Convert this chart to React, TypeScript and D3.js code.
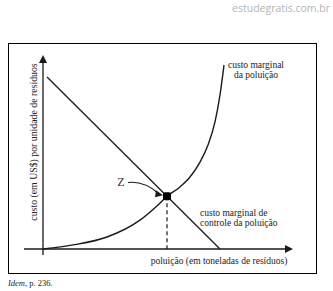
import React from "react";
import * as d3 from "d3";

// Curves in abstract units: x = pollution (tons), y = cost per unit
const pollutionCostX = [0, 1.2, 2.56, 3.88, 4.6, 4.96, 5.48, 5.88, 6.28, 6.6, 6.88, 7.08, 7.24];
const pollutionCostY = [0, 0.21, 0.62, 1.49, 2.27, 2.72, 3.2, 3.71, 4.48, 5.36, 6.55, 7.94, 9.48];
const controlCostX = [0.16, 7.08];
const controlCostY = [8.87, 0];
const equilibrium = { x: 4.96, y: 2.72 };

const xAxisLabel = "poluição (em toneladas de resíduos)";
const yAxisLabel = "custo (em US$) por unidade de resíduos";
const pollutionLabel = ["custo marginal", "da poluição"];
const controlLabel = ["custo marginal de", "controle da poluição"];
const pointLabel = "Z";
const sourceNote = "p. 236.";
const siteMark = "estudegratis.com.br";

const W = 333;
const H = 291;

export default function App() {
  const x = d3.scaleLinear().domain([0, 10]).range([43, 293]);
  const y = d3.scaleLinear().domain([0, 10]).range([249, 55]);

  const pollutionPts: [number, number][] = pollutionCostX.map((v, i) => [v, pollutionCostY[i]]);
  const controlPts: [number, number][] = controlCostX.map((v, i) => [v, controlCostY[i]]);

  const curvePath =
    d3
      .line<[number, number]>()
      .x((d) => x(d[0]))
      .y((d) => y(d[1]))
      .curve(d3.curveMonotoneX)(pollutionPts) || "";
  const controlPath =
    d3
      .line<[number, number]>()
      .x((d) => x(d[0]))
      .y((d) => y(d[1]))(controlPts) || "";

  const zx = x(equilibrium.x);
  const zy = y(equilibrium.y);
  const x0 = x(0);
  const y0 = y(0);
  const xEnd = x(10);
  const yEnd = y(10);

  const serif = "Liberation Serif, Tinos, Times New Roman, DejaVu Serif, serif";
  const ink = "#1a1a1a";

  return (
    <svg
      width={W}
      height={H}
      viewBox={`0 0 ${W} ${H}`}
      style={{ position: "absolute", left: 0, top: 0, background: "#fff" }}
    >
      <rect width={W} height={H} fill="#fff" />
      <text
        x={330}
        y={12}
        textAnchor="end"
        fontFamily="Open Sans, sans-serif"
        fontSize={10.5}
        fill="#b4b4b4"
      >
        {siteMark}
      </text>

      {/* frame */}
      <rect x={8.5} y={43.5} width={308} height={230} fill="none" stroke="#000" strokeWidth={1} />

      {/* axes */}
      <line x1={x0} y1={yEnd + 6} x2={x0} y2={y0 + 6} stroke={ink} strokeWidth={1.3} />
      <path d={`M${x0},${yEnd} L${x0 - 4},${yEnd + 8} L${x0 + 4},${yEnd + 8} Z`} fill={ink} />
      <line x1={24} y1={y0} x2={xEnd - 6} y2={y0} stroke={ink} strokeWidth={1.3} />
      <path d={`M${xEnd},${y0} L${xEnd - 8},${y0 - 4} L${xEnd - 8},${y0 + 4} Z`} fill={ink} />

      {/* marginal cost curves */}
      <path d={controlPath} fill="none" stroke={ink} strokeWidth={1.3} />
      <path d={curvePath} fill="none" stroke={ink} strokeWidth={1.4} />

      {/* equilibrium drop line */}
      <line x1={zx} y1={zy} x2={zx} y2={y0} stroke={ink} strokeWidth={1.2} strokeDasharray="4,3" />
      <rect x={zx - 4} y={zy - 4} width={8} height={8} rx={2} fill="#000" />

      {/* Z pointer */}
      <text x={121} y={186} textAnchor="middle" style={{ fontFamily: serif }} fontSize={12} fill="#333">
        {pointLabel}
      </text>
      <path
        d={`M128,182.5 C140,181 150,186 ${zx - 8},${zy - 2.5}`}
        fill="none"
        stroke={ink}
        strokeWidth={1.2}
      />
      <path
        d={`M${zx - 4},${zy - 1} L${zx - 11},${zy - 6} L${zx - 12},${zy + 1} Z`}
        fill={ink}
      />

      {/* curve labels */}
      <g style={{ fontFamily: serif }} fontSize={9.5} fill="#222">
        <text x={256} y={68} textAnchor="middle">{pollutionLabel[0]}</text>
        <text x={256} y={78} textAnchor="middle">{pollutionLabel[1]}</text>
        <text x={200} y={216}>{controlLabel[0]}</text>
        <text x={200} y={226}>{controlLabel[1]}</text>
        <text x={219} y={264} textAnchor="middle">{xAxisLabel}</text>
        <text transform="translate(37,142) rotate(-90)" textAnchor="middle" fontSize={9.8}>
          {yAxisLabel}
        </text>
      </g>

      {/* source */}
      <text x={8} y={286} style={{ fontFamily: serif }} fontSize={8.5} fill="#222">
        <tspan fontStyle="italic">Idem</tspan>, {sourceNote}
      </text>
    </svg>
  );
}
